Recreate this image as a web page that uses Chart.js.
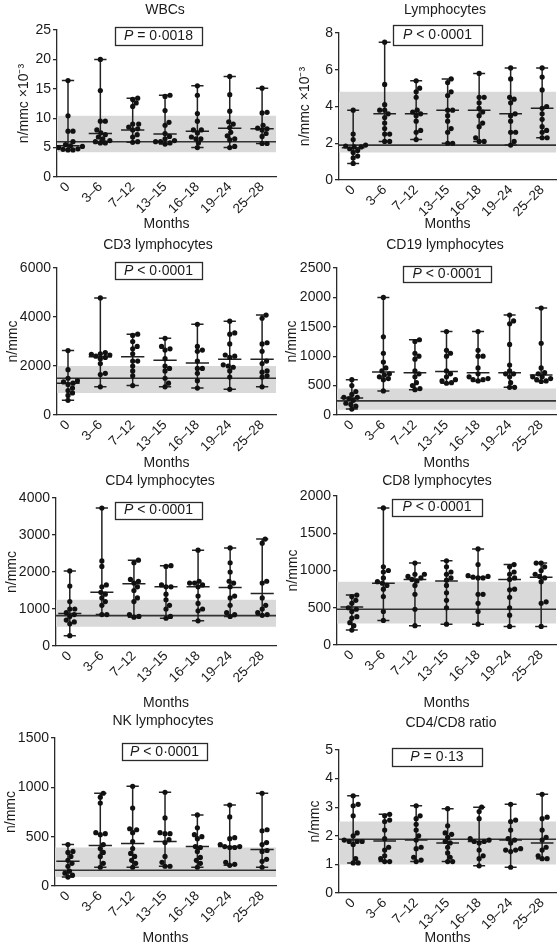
<!DOCTYPE html>
<html><head><meta charset="utf-8">
<script src="https://cdn.jsdelivr.net/npm/chart.js@4.4.1/dist/chart.umd.min.js"></script>
<style>
html,body{margin:0;padding:0;background:#fff;}
#wrap{position:relative;width:560px;height:948px;overflow:hidden;background:#fff;}
canvas{position:absolute;}
</style></head><body><div id="wrap"></div>
<script>
const categories = ['0', '3–6', '7–12', '13–15', '16–18', '19–24', '25–28'];

// WBCs (n/mmc x10^-3)
const wbcPoints = [
  [16.4, 10.4, 7.8, 7.8, 6.0, 5.5, 5.2, 5.0, 4.8, 4.7, 4.6, 4.6, 5.3],
  [20.0, 14.7, 9.5, 9.5, 8.0, 7.5, 7.2, 6.8, 6.5, 6.2, 6.0, 5.8, 5.8],
  [13.4, 13.2, 12.6, 12.0, 9.0, 9.0, 8.5, 8.2, 8.0, 7.2, 6.8, 6.0, 5.9],
  [13.9, 13.7, 11.3, 9.3, 8.8, 7.4, 6.9, 6.5, 6.2, 6.0, 6.0, 5.8, 5.6],
  [15.5, 13.9, 10.8, 9.5, 8.0, 8.0, 7.5, 6.8, 6.5, 6.5, 5.8, 5.0],
  [17.1, 14.0, 11.2, 9.4, 9.0, 8.4, 7.6, 7.0, 6.5, 6.3, 5.2, 5.0],
  [15.1, 11.0, 10.9, 8.8, 8.3, 8.2, 8.0, 7.4, 6.9, 5.7, 5.7]
];
const wbcMedian = [5.3, 7.4, 8.0, 7.3, 7.8, 8.3, 8.2];
const wbcNormal = [4.2, 10.4];
const wbcRef = 6.0;
const wbcTicks = [0, 5, 10, 15, 20, 25];

// Lymphocytes (n/mmc x10^-3)
const lymPoints = [
  [3.8, 2.5, 2.2, 1.9, 1.85, 1.8, 1.8, 1.7, 1.6, 1.5, 1.3, 1.2, 0.9],
  [7.5, 5.2, 4.1, 3.8, 3.8, 3.6, 3.4, 3.1, 2.8, 2.5, 2.5, 2.1, 2.1],
  [5.4, 5.0, 4.8, 4.5, 3.8, 3.7, 3.6, 3.5, 3.2, 2.7, 2.6, 2.2],
  [5.5, 5.3, 4.8, 4.6, 3.8, 3.8, 3.5, 3.2, 2.8, 2.6, 2.0, 2.0],
  [5.8, 4.5, 4.5, 4.2, 3.9, 3.7, 3.5, 3.1, 2.9, 2.3, 2.1, 2.1],
  [6.1, 5.5, 4.5, 4.4, 4.2, 3.6, 3.5, 3.2, 2.6, 2.6, 2.1, 1.9],
  [6.1, 5.6, 4.9, 4.0, 3.9, 3.6, 3.3, 2.9, 2.7, 2.6, 2.3, 2.3]
];
const lymMedian = [1.75, 3.6, 3.6, 3.8, 3.8, 3.6, 3.9];
const lymNormal = [1.5, 4.8];
const lymRef = 1.9;
const lymTicks = [0, 2, 4, 6, 8];

// CD3 lymphocytes (n/mmc)
const cd3Points = [
  [2630, 1850, 1500, 1400, 1350, 1300, 1250, 1100, 1000, 900, 800, 600],
  [4780, 2550, 2500, 2480, 2450, 2400, 2350, 2300, 2100, 1700, 1650, 1150],
  [3300, 3250, 3000, 2800, 2700, 2500, 2200, 2200, 2000, 1800, 1600, 1200],
  [3130, 2800, 2700, 2650, 2300, 2000, 1900, 1800, 1500, 1300, 1150],
  [3700, 2800, 2650, 2600, 2200, 1900, 1900, 1700, 1400, 1100],
  [3830, 3350, 3300, 2900, 2450, 2400, 2350, 2050, 2000, 1950, 1800, 1550, 1050],
  [4080, 3950, 2950, 2900, 2600, 2200, 2100, 1800, 1750, 1600, 1550, 1150]
];
const cd3Median = [1300, 2380, 2380, 2230, 2120, 2280, 2280];
const cd3Normal = [900, 2000];
const cd3Ref = 1500;
const cd3Ticks = [0, 2000, 4000, 6000];

// CD19 lymphocytes (n/mmc)
const cd19Points = [
  [600, 500, 400, 350, 300, 300, 280, 250, 200, 180, 150, 100],
  [2000, 1330, 1050, 900, 800, 750, 700, 680, 650, 620, 600, 410],
  [1280, 1250, 1050, 1000, 950, 750, 700, 650, 550, 500, 450, 430],
  [1420, 1100, 1050, 1000, 750, 700, 650, 600, 580, 550, 540],
  [1420, 1100, 1000, 1000, 800, 700, 650, 620, 600, 600, 580],
  [1700, 1600, 1550, 1200, 850, 750, 700, 700, 650, 550, 470, 470],
  [1820, 1220, 800, 720, 700, 650, 650, 620, 600, 580, 570]
];
const cd19Median = [290, 730, 720, 740, 720, 720, 680];
const cd19Normal = [90, 450];
const cd19Ref = 240;
const cd19Ticks = [0, 500, 1000, 1500, 2000, 2500];

// CD4 lymphocytes (n/mmc)
const cd4Points = [
  [2030, 1620, 1200, 1000, 1000, 900, 850, 800, 700, 650, 600, 280],
  [3730, 2300, 2150, 1650, 1600, 1450, 1400, 1300, 1200, 1100, 850, 850],
  [2320, 2250, 1800, 1750, 1700, 1600, 1500, 1300, 1200, 850, 800, 780],
  [2170, 2150, 1650, 1600, 1600, 1400, 1250, 1100, 1000, 800, 750],
  [2590, 1750, 1700, 1700, 1650, 1600, 1350, 1150, 1000, 950, 680],
  [2650, 2250, 2000, 1750, 1700, 1600, 1350, 1300, 1100, 900, 850, 800],
  [2890, 2780, 1750, 1700, 1300, 1100, 1000, 900, 850, 830]
];
const cd4Median = [880, 1450, 1680, 1600, 1600, 1580, 1420];
const cd4Normal = [520, 1250];
const cd4Ref = 820;
const cd4Ticks = [0, 1000, 2000, 3000, 4000];

// CD8 lymphocytes (n/mmc)
const cd8Points = [
  [670, 650, 600, 560, 500, 480, 450, 380, 360, 300, 260, 200],
  [1840, 1050, 1000, 980, 900, 850, 830, 800, 750, 650, 450, 330],
  [1100, 950, 950, 920, 900, 880, 860, 800, 680, 480, 260],
  [1130, 1050, 980, 950, 900, 870, 800, 700, 600, 500, 280],
  [1290, 1080, 930, 920, 910, 900, 900, 680, 680, 560, 450, 280],
  [1080, 1050, 980, 950, 900, 880, 750, 740, 640, 500, 400, 250],
  [1100, 1100, 1050, 1000, 950, 920, 900, 850, 580, 560, 250]
];
const cd8Median = [510, 830, 880, 860, 910, 880, 910];
const cd8Normal = [290, 850];
const cd8Ref = 480;
const cd8Ticks = [0, 500, 1000, 1500, 2000];

// NK lymphocytes (n/mmc)
const nkPoints = [
  [420, 350, 340, 300, 260, 230, 200, 150, 130, 110, 90],
  [940, 900, 840, 540, 530, 520, 420, 380, 340, 300, 230, 190],
  [1010, 790, 580, 570, 540, 450, 380, 330, 300, 260, 230, 190],
  [950, 690, 540, 530, 530, 470, 440, 300, 240, 200, 200],
  [720, 590, 520, 500, 480, 400, 390, 350, 290, 260, 230, 190],
  [820, 700, 490, 480, 420, 400, 400, 390, 390, 240, 220, 210],
  [940, 570, 560, 440, 420, 360, 350, 270, 250, 190]
];
const nkMedian = [250, 410, 430, 450, 400, 400, 370];
const nkNormal = [90, 390];
const nkRef = 160;
const nkTicks = [0, 500, 1000, 1500];

// CD4/CD8 ratio
const ratioPoints = [
  [3.4, 3.1, 3.05, 2.7, 2.1, 2.0, 1.85, 1.8, 1.8, 1.8, 1.7, 1.2, 1.05, 1.05],
  [2.75, 2.7, 2.55, 2.5, 2.2, 1.9, 1.6, 1.5, 1.3, 1.2, 1.1, 1.1],
  [3.05, 2.7, 2.6, 2.4, 2.2, 2.0, 1.85, 1.6, 1.55, 1.25, 1.15, 1.1],
  [2.95, 2.35, 2.1, 2.05, 1.95, 1.8, 1.75, 1.6, 1.4, 1.25, 1.1, 1.1],
  [3.0, 2.85, 2.6, 1.9, 1.85, 1.8, 1.8, 1.75, 1.5, 1.3, 1.2, 0.95],
  [3.1, 2.55, 2.5, 2.2, 1.9, 1.85, 1.75, 1.55, 1.5, 1.5, 1.45, 0.9],
  [3.45, 2.65, 2.6, 2.2, 1.95, 1.85, 1.6, 1.5, 1.3, 1.2, 1.2]
];
const ratioMedian = [1.85, 1.82, 1.85, 1.75, 1.8, 1.85, 1.75];
const ratioNormal = [1.0, 2.5];
const ratioRef = 1.88;
const ratioTicks = [0, 1, 2, 3, 4, 5];

const titles = ['WBCs', 'Lymphocytes', 'CD3 lymphocytes', 'CD19 lymphocytes', 'CD4 lymphocytes', 'CD8 lymphocytes', 'NK lymphocytes', 'CD4/CD8 ratio'];
const pTexts = [['P', ' = 0·0018'], ['P', ' < 0·0001'], ['P', ' < 0·0001'], ['P', ' < 0·0001'], ['P', ' < 0·0001'], ['P', ' < 0·0001'], ['P', ' < 0·0001'], ['P', ' = 0·13']];
const yTitles = ['n/mmc ×10⁻³', 'n/mmc ×10⁻³', 'n/mmc', 'n/mmc', 'n/mmc', 'n/mmc', 'n/mmc', 'n/mmc'];
const xTitle = 'Months';

// layout (page pixel geometry only)
const layouts = [
  {cell:[0,0,280,233],   axisX:57,  top:30,  axisY:177, right:277, yTitleX:24,  monthsY:224, title:[165,10],  box:[158.5,35.5,87,18], xr:[-0.34,6.43]},
  {cell:[280,0,280,233], axisX:339, top:33,  axisY:180, right:557, yTitleX:305, monthsY:224, title:[445,10],  box:[437.5,35,89,20],   xr:[-0.45,6.44]},
  {cell:[0,233,280,239], axisX:57,  top:268, axisY:415, right:277, yTitleX:13,  monthsY:463, title:[158,245], box:[158.5,270.5,87,17], xr:[-0.34,6.43]},
  {cell:[280,233,280,239], axisX:337, top:268, axisY:415, right:557, yTitleX:292, monthsY:463, title:[445,245], box:[447,274,88,16], xr:[-0.47,6.47]},
  {cell:[0,472,280,240], axisX:56,  top:498, axisY:646, right:277, yTitleX:12,  monthsY:703, title:[160,481], box:[158.5,510,87,17], xr:[-0.43,6.43]},
  {cell:[280,472,280,240], axisX:337, top:496, axisY:645, right:557, yTitleX:293, monthsY:703, title:[437,481], box:[437,507,90,17], xr:[-0.47,6.47]},
  {cell:[0,712,280,236], axisX:55,  top:738, axisY:886, right:277, yTitleX:11,  monthsY:938, title:[163,721], box:[164.5,751.5,85,17], xr:[-0.4,6.43]},
  {cell:[280,712,280,236], axisX:339, top:750, axisY:893, right:557, yTitleX:315, monthsY:938, title:[451,723], box:[437,757,90,18], xr:[-0.45,6.44]}
];

const seriesList = [
  {points: wbcPoints, median: wbcMedian, normal: wbcNormal, ref: wbcRef, ticks: wbcTicks},
  {points: lymPoints, median: lymMedian, normal: lymNormal, ref: lymRef, ticks: lymTicks},
  {points: cd3Points, median: cd3Median, normal: cd3Normal, ref: cd3Ref, ticks: cd3Ticks},
  {points: cd19Points, median: cd19Median, normal: cd19Normal, ref: cd19Ref, ticks: cd19Ticks},
  {points: cd4Points, median: cd4Median, normal: cd4Normal, ref: cd4Ref, ticks: cd4Ticks},
  {points: cd8Points, median: cd8Median, normal: cd8Normal, ref: cd8Ref, ticks: cd8Ticks},
  {points: nkPoints, median: nkMedian, normal: nkNormal, ref: nkRef, ticks: nkTicks},
  {points: ratioPoints, median: ratioMedian, normal: ratioNormal, ref: ratioRef, ticks: ratioTicks}
];

const FONT = '"Liberation Sans", Arial, Helvetica, sans-serif';
const FS = 14;
const XFS = 13.5;
const LH = FS * 1.2;
const TXT = '#1a1a1a';
const AX = '#2a2a2a';
const CAP = 0.19, MED = 0.36;

function swarmOffsets(vals, pxY, pxX, dist) {
  const idx = vals.map((v, i) => i).sort((a, b) => vals[a] - vals[b]);
  const placed = [], out = new Array(vals.length).fill(0);
  idx.forEach(i => {
    const y = vals[i] * pxY;
    for (let k = 0; k < 80; k++) {
      const c = k === 0 ? 0 : (k % 2 ? 1 : -1) * Math.ceil(k / 2) * 0.5;
      if (placed.every(p => (p.x - c) ** 2 + (p.y - y) ** 2 >= dist * dist)) {
        placed.push({x: c, y}); out[i] = c / pxX; break;
      }
    }
  });
  return out;
}

const wrap = document.getElementById('wrap');

layouts.forEach((L, n) => {
  const S = seriesList[n];
  const [cx, cy, cw, ch] = L.cell;
  const cv = document.createElement('canvas');
  cv.width = cw; cv.height = ch;
  cv.style.left = cx + 'px'; cv.style.top = cy + 'px';
  cv.style.width = cw + 'px'; cv.style.height = ch + 'px';
  wrap.appendChild(cv);

  const ymax = S.ticks[S.ticks.length - 1];
  const scaleLeft = L.yTitleX - LH / 2;
  const wY = L.axisX - scaleLeft;
  const hX = L.monthsY + LH / 2 - L.axisY;
  const pad = {left: scaleLeft - cx, top: L.top - cy, right: cx + cw - L.right, bottom: Math.max(0, cy + ch - L.axisY - hX)};

  const pxY = (L.axisY - L.top) / ymax;
  const pxX = (L.right - L.axisX) / (L.xr[1] - L.xr[0]);

  const pts = [], whisk = [], meds = [];
  S.points.forEach((vals, i) => {
    const offs = swarmOffsets(vals, pxY, pxX, 4.8);
    vals.forEach((v, j) => pts.push({x: i + offs[j], y: v}));
    const mn = Math.min(...vals), mx = Math.max(...vals);
    whisk.push({x: i, y: mn}, {x: i, y: mx}, {x: i, y: null},
               {x: i - CAP, y: mx}, {x: i + CAP, y: mx}, {x: i, y: null},
               {x: i - CAP, y: mn}, {x: i + CAP, y: mn}, {x: i, y: null});
    meds.push({x: i - MED, y: S.median[i]}, {x: i + MED, y: S.median[i]}, {x: i, y: null});
  });

  const overlay = {
    id: 'overlay' + n,
    afterDraw(chart) {
      const ctx = chart.ctx;
      ctx.save();
      ctx.fillStyle = TXT;
      ctx.textBaseline = 'middle';
      ctx.textAlign = 'center';
      ctx.font = FS + 'px ' + FONT;
      ctx.fillText(titles[n], L.title[0] - cx, L.title[1] - cy);
      // P box
      const [bx, by, bw, bh] = L.box;
      ctx.strokeStyle = AX; ctx.lineWidth = 1.3;
      ctx.strokeRect(Math.round(bx - bw / 2 - cx) + 0.5, Math.round(by - bh / 2 - cy) + 0.5, Math.round(bw), Math.round(bh));
      const [pa, pb] = pTexts[n];
      ctx.font = 'italic ' + FS + 'px ' + FONT;
      const wa = ctx.measureText(pa).width;
      ctx.font = FS + 'px ' + FONT;
      const wb = ctx.measureText(pb).width;
      const x0 = bx - cx - (wa + wb) / 2;
      ctx.textAlign = 'left';
      ctx.font = 'italic ' + FS + 'px ' + FONT;
      ctx.fillText(pa, x0, by - cy + 0.5);
      ctx.font = FS + 'px ' + FONT;
      ctx.fillText(pb, x0 + wa, by - cy + 0.5);
      ctx.restore();
    }
  };

  new Chart(cv, {
    type: 'line',
    data: {
      datasets: [
        {label: 'points', data: pts, showLine: false, pointRadius: 2.6, pointBackgroundColor: '#111', pointBorderWidth: 0, order: 0},
        {label: 'whiskers', data: whisk, borderColor: '#222', borderWidth: 1.5, pointRadius: 0, spanGaps: false, fill: false, order: 1},
        {label: 'median', data: meds, borderColor: '#222', borderWidth: 1.5, pointRadius: 0, spanGaps: false, fill: false, order: 2},
        {label: 'ref', data: [{x: L.xr[0], y: S.ref}, {x: L.xr[1], y: S.ref}], borderColor: '#333', borderWidth: 1.6, pointRadius: 0, fill: false, order: 3},
        {label: 'normal', data: [{x: L.xr[0], y: S.normal[1]}, {x: L.xr[1], y: S.normal[1]}], borderWidth: 0, borderColor: 'rgba(0,0,0,0)', pointRadius: 0,
         fill: {value: S.normal[0]}, backgroundColor: '#d9d9d9', order: 4}
      ]
    },
    options: {
      responsive: false, animation: false, devicePixelRatio: 1,
      layout: {padding: pad},
      plugins: {legend: {display: false}, tooltip: {enabled: false}, title: {display: false}},
      scales: {
        x: {
          type: 'linear', min: L.xr[0], max: L.xr[1],
          grid: {display: false, drawTicks: false},
          border: {display: true, color: AX, width: 1.3},
          afterBuildTicks: s => { s.ticks = categories.map((c, i) => ({value: i})); },
          ticks: {autoSkip: false, minRotation: 45, maxRotation: 45, padding: 2, color: TXT,
                  font: {family: FONT, size: XFS}, callback: v => categories[Math.round(v)]},
          title: {display: true, text: xTitle, padding: 0, color: TXT, font: {family: FONT, size: FS}},
          afterFit: s => { s.height = hX; }
        },
        y: {
          min: 0, max: ymax,
          afterBuildTicks: s => { s.ticks = S.ticks.map(v => ({value: v})); },
          grid: {display: true, drawOnChartArea: false, drawTicks: true, tickLength: 4, color: AX, lineWidth: 1.3},
          border: {display: true, color: AX, width: 1.3},
          ticks: {padding: 2, color: TXT, font: {family: FONT, size: FS}, callback: v => String(v)},
          title: {display: true, text: yTitles[n], padding: 0, color: TXT, font: {family: FONT, size: FS}},
          afterFit: s => { s.width = wY; }
        }
      }
    },
    plugins: [overlay]
  });
});
</script>
</body></html>
